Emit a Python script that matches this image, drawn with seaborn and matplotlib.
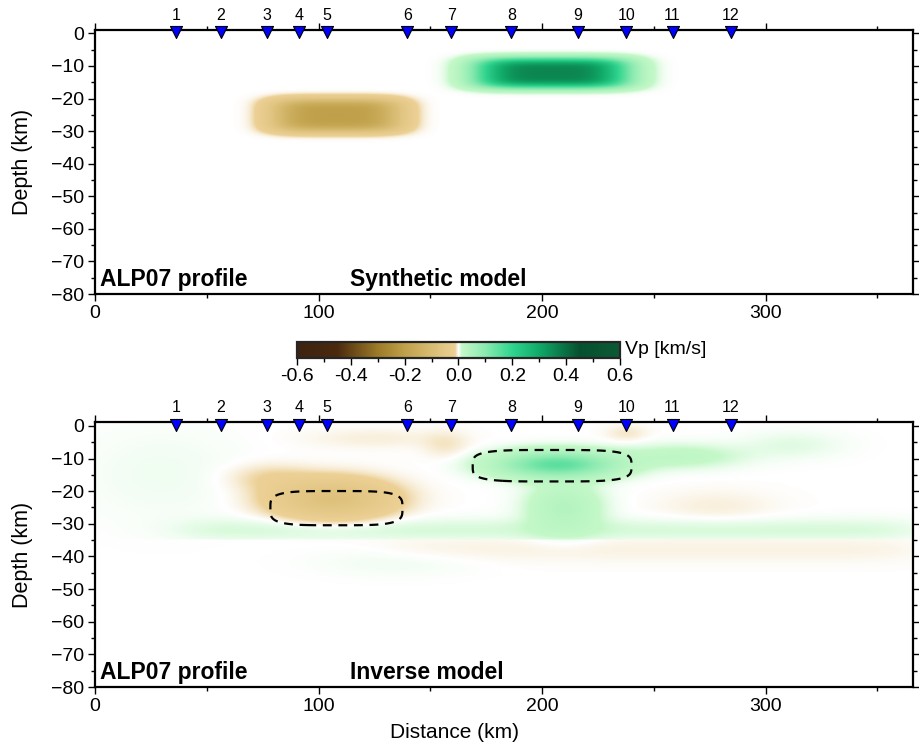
import numpy as np
import pandas as pd
import matplotlib
matplotlib.use("Agg")
import matplotlib.pyplot as plt
import seaborn as sns
from matplotlib.colors import LinearSegmentedColormap
from matplotlib.ticker import MultipleLocator

sns.set_theme(style="ticks")
plt.rcParams["font.family"] = ["Liberation Sans", "DejaVu Sans"]
plt.rcParams.update({"text.color": "black", "axes.labelcolor": "black",
                     "xtick.color": "black", "ytick.color": "black"})

# Profile geometry
X_MAX = 366.0
Z_MIN, Z_MAX = -80.0, 1.2

# Stations along the ALP07 profile (distance in km)
station_id = [1, 2, 3, 4, 5, 6, 7, 8, 9, 10, 11, 12]
station_x = [36.3, 56.4, 77.0, 91.4, 103.9, 139.7, 159.4, 186.3, 215.9, 237.8, 258.4, 284.4]

# Synthetic model: two velocity anomalies (centre, half-size, dVp)
syn_x = [108.0, 204.5]
syn_z = [-25.2, -12.2]
syn_hx = [28.2, 33.9]
syn_hz = [5.0, 4.6]
syn_dv = [-0.2, 0.36]

# Inverse model: recovered anomalies (centre, width, dVp)
inv_x = [106.0, 78.0, 125.0, 157.0, 207.0, 210.0, 262.0, 312.0, 278.0, 238.0, 30.0, 135.0]
inv_z = [-22.5, -16.0, -4.0, -6.0, -12.0, -25.0, -9.5, -6.0, -25.0, -2.5, -15.0, -42.0]
inv_sx = [24.0, 18.0, 30.0, 10.0, 24.0, 15.0, 26.0, 22.0, 26.0, 9.0, 35.0, 35.0]
inv_sz = [5.5, 4.0, 3.0, 4.0, 3.6, 7.0, 3.5, 4.0, 5.0, 2.5, 14.0, 4.0]
inv_dv = [-0.075, -0.010, -0.004, -0.006, 0.15, 0.035, 0.018, 0.006, -0.004, -0.006, 0.003, 0.003]

# Layering at the 35 km interface: thin positive layer above, weak negative below
moho_z = -35.0
layer_x0 = [40.0, 130.0]
layer_x1 = [366.0, 366.0]
layer_zc = [-32.0, -38.0]
layer_w = [3.5, 4.0]
layer_dv = [0.008, -0.003]

# Colour scale of dVp
cpt_v = [-0.6, -0.45, -0.3, -0.2, -0.1, -0.012, 0.0, 0.012, 0.1, 0.2, 0.3, 0.45, 0.6]
cpt_c = ["#3c2210", "#4a2a0e", "#9c7a28", "#c0a04a", "#d8bc72", "#ecd095", "#ffffff",
         "#c4f8c8", "#8aeab0", "#30d48e", "#10aa68", "#065030", "#0a5a34"]
cmap = LinearSegmentedColormap.from_list(
    "vp", [((v + 0.6) / 1.2, c) for v, c in zip(cpt_v, cpt_c)], N=4001)

xg = np.linspace(0, X_MAX, 733)
zg = np.linspace(Z_MIN, Z_MAX, 330)
X, Z = np.meshgrid(xg, zg)


def anomalies(xc, zc, hx, hz, dv, px, pz):
    f = np.zeros_like(X)
    for a, b, c, d, v in zip(xc, zc, hx, hz, dv):
        f += v * np.exp(-(np.abs(X - a) / c) ** px - (np.abs(Z - b) / d) ** pz)
    return f


syn = anomalies(syn_x, syn_z, syn_hx, syn_hz, syn_dv, 4, 4)
inv = anomalies(inv_x, inv_z, inv_sx, inv_sz, inv_dv, 2, 2)
for k, (x0, x1, zc, w, v) in enumerate(zip(layer_x0, layer_x1, layer_zc, layer_w, layer_dv)):
    sx = 1.0 / (1 + np.exp(-(X - x0) / 8.0)) * 1.0 / (1 + np.exp((X - x1) / 8.0))
    side = (Z >= moho_z) if k == 0 else (Z < moho_z)
    inv += v * sx * np.exp(-((Z - zc) / w) ** 2) * side

stations = pd.DataFrame({"x": station_x, "y": [0.4] * len(station_x)})

fig = plt.figure(figsize=(9.2, 7.47), dpi=100)
ax1 = fig.add_axes([0.1033, 0.6064, 0.8891, 0.3541])
ax2 = fig.add_axes([0.1033, 0.0803, 0.8891, 0.3548])
cax = fig.add_axes([0.3228, 0.5208, 0.3511, 0.0214])

for ax, field, title in [(ax1, syn, "Synthetic model"), (ax2, inv, "Inverse model")]:
    im = ax.imshow(field, origin="lower", extent=[0, X_MAX, Z_MIN, Z_MAX], aspect="auto",
                   cmap=cmap, vmin=-0.6, vmax=0.6, interpolation="bilinear")
    sns.scatterplot(data=stations, x="x", y="y", marker="v", s=75, color="#0000ff",
                    edgecolor="black", linewidth=0.8, clip_on=False, legend=False,
                    ax=ax, zorder=6)
    for sid, sx in zip(station_id, station_x):
        ax.annotate(str(sid), (sx, Z_MAX), xytext=(0, 5), textcoords="offset points",
                    ha="center", va="bottom", fontsize=11.5, annotation_clip=False)
    ax.set_xlim(0, X_MAX)
    ax.set_ylim(Z_MIN, Z_MAX)
    ax.xaxis.set_major_locator(MultipleLocator(100))
    ax.xaxis.set_minor_locator(MultipleLocator(50))
    ax.yaxis.set_major_locator(MultipleLocator(10))
    ax.yaxis.set_minor_locator(MultipleLocator(5))
    ax.tick_params(which="both", direction="out", top=True, right=True,
                   labeltop=False, labelright=False, labelsize=14, width=1.0, color="black")
    ax.tick_params(which="major", length=5, pad=3)
    ax.tick_params(which="minor", length=3)
    for sp in ax.spines.values():
        sp.set_linewidth(1.6)
        sp.set_color("black")
    ax.set_ylabel("Depth (km)", fontsize=15.5)
    ax.yaxis.set_label_coords(-0.076, 0.5)
    ax.set_xlabel("")
    ax.text(2, -77.4, "ALP07 profile", fontsize=16.5, fontweight="bold",
            ha="left", va="baseline")
    ax.text(114, -77.4, title, fontsize=16.5, fontweight="bold", ha="left", va="baseline")

# outline of the synthetic anomalies on the inverse model
levels = sorted(0.3 * np.array(syn_dv))
cs = ax2.contour(X, Z, syn, levels=levels, colors="black", linewidths=1.6)
cs.set_linestyle((0, (4, 3)))

ax2.set_xlabel("Distance (km)", fontsize=15)
ax2.xaxis.set_label_coords(0.439, -0.135)

cb = fig.colorbar(im, cax=cax, orientation="horizontal")
cb.set_ticks(np.round(np.arange(-0.6, 0.61, 0.2), 1))
cb.ax.xaxis.set_minor_locator(MultipleLocator(0.1))
cb.ax.xaxis.set_major_formatter(matplotlib.ticker.FormatStrFormatter("%.1f"))
cb.ax.tick_params(which="both", direction="out", labelsize=14, width=1.0)
cb.ax.tick_params(which="major", length=5, pad=2)
cb.ax.tick_params(which="minor", length=3)
cb.outline.set_linewidth(1.6)
cax.text(1.015, 0.5, "Vp [km/s]", transform=cax.transAxes, ha="left", va="center", fontsize=14)

fig.savefig("out.png", dpi=100)
